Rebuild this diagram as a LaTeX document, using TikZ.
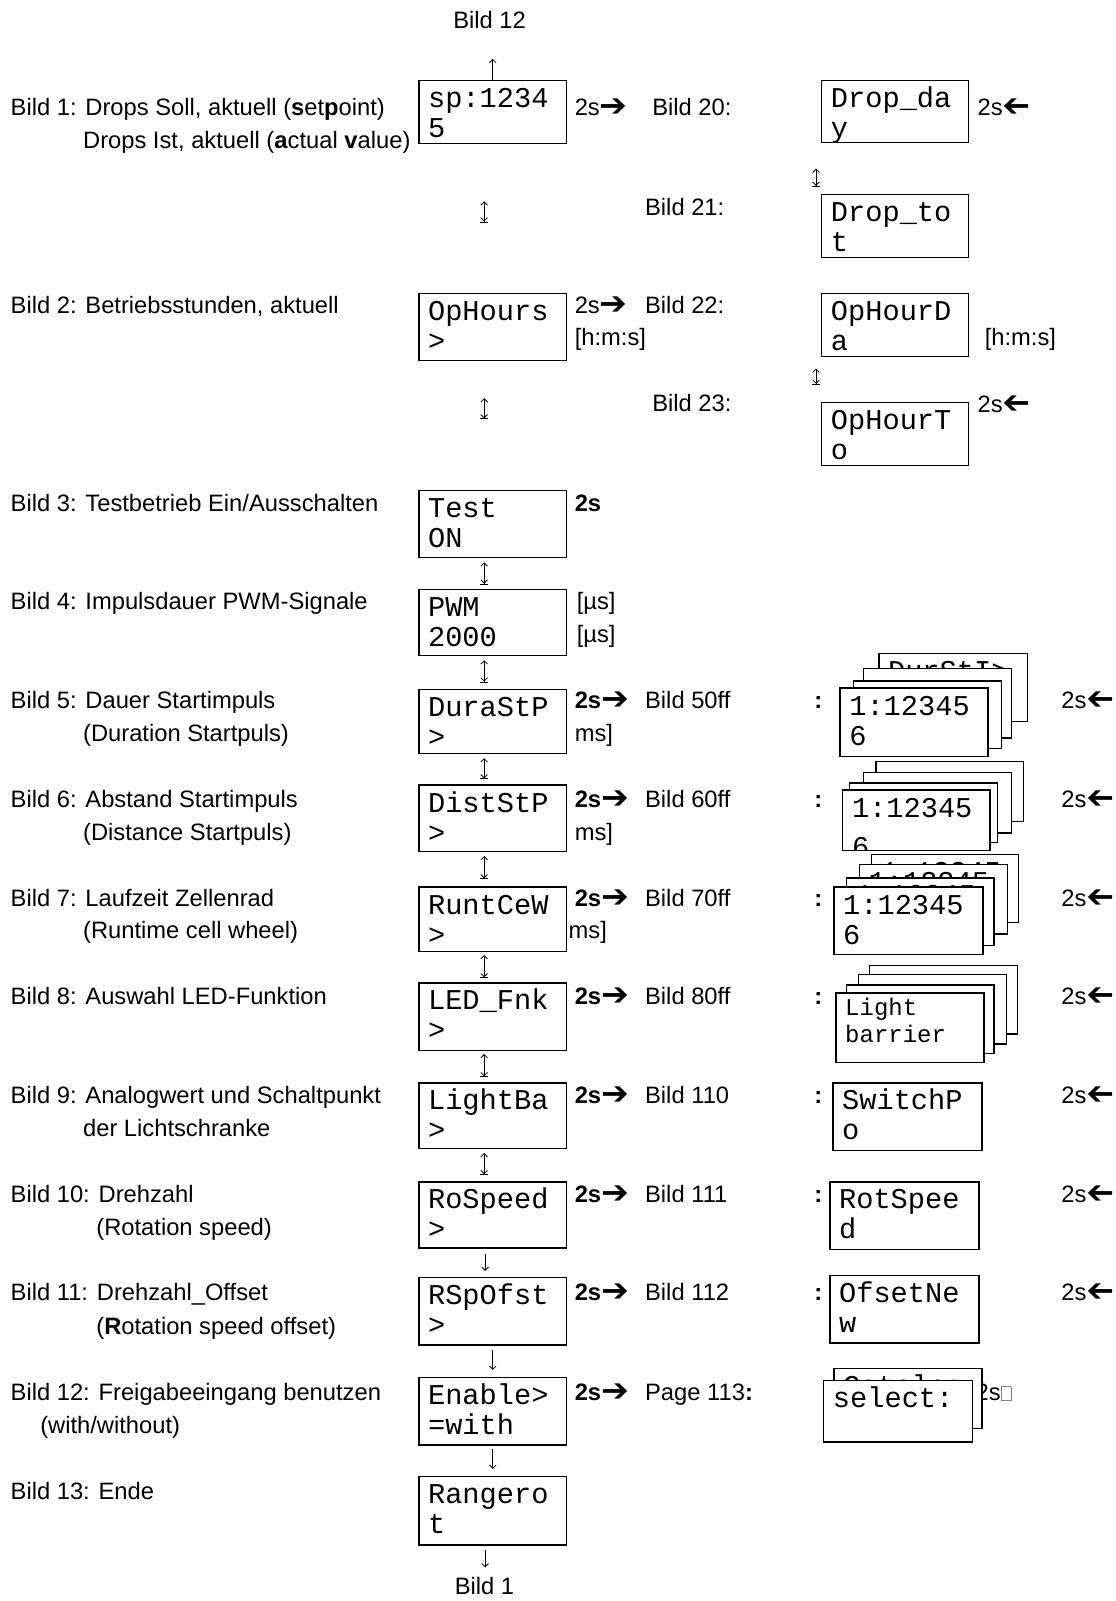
\documentclass[tikz,border=0pt]{standalone}
\usepackage{fontspec}
\usepackage{graphicx}
\setmainfont{Liberation Sans}
\setmonofont{Liberation Mono}
\newfontfamily\arrowfont{DejaVu Sans}[BoldFont=DejaVu Sans Bold]
\usetikzlibrary{arrows.meta}

\newlength{\pxu}\setlength{\pxu}{0.765pt}
\newcommand{\lcdfont}{\ttfamily\fontsize{21.5}{22.5}\selectfont}
\newcommand{\smalllcd}{\ttfamily\fontsize{18}{20.3}\selectfont}
\newcommand{\lblfont}{\fontsize{17.8}{21}\selectfont}
% display text: [strut] width, height, line 1, line 2
\newcommand{\screen}[5][26.5]{\parbox[t][#3\pxu][t]{#2\pxu}{\leftskip=9\pxu\rule{0pt}{#1\pxu}#4\\#5}}
\newcommand{\rarr}{{\arrowfont\bfseries\raisebox{-0.8pt}{\scalebox{1.4}[1.35]{➔}}}}
\newcommand{\larr}{{\arrowfont\bfseries\raisebox{-0.8pt}{\scalebox{-1.4}[1.35]{➔}}}}
\newcommand{\nogl}{\textcolor{gray}{\fboxsep=0pt\fboxrule=0.5pt\fbox{\rule{0pt}{10pt}\hspace{7pt}}}}

\tikzset{every picture/.style={line width=0.75pt}}

\begin{document}
\begin{tikzpicture}[x=0.765pt,y=0.765pt,yscale=-1,xscale=1,
  lcd/.style={draw, line width=1pt, fill=white, inner sep=0pt, anchor=north west, font=\lcdfont},
  lbl/.style={anchor=base west, inner sep=0pt, font=\lblfont},
  updown/.style={{Straight Barb[length=2.5pt,width=5pt]}-{Straight Barb[length=2.5pt,width=5pt] Bar[width=6pt]}, line width=0.6pt},
  down/.style={-{Straight Barb[length=2.5pt,width=5pt]}, line width=0.6pt}]
\useasboundingbox (0,0) rectangle (1093.14,1569.6);

%Text: left column
\node[lbl] (t1a) at (10,113) {Bild 1: Drops Soll, aktuell (\textbf{s}et\textbf{p}oint)};
\node[lbl] (t1b) at (81,146) {Drops Ist, aktuell (\textbf{a}ctual \textbf{v}alue)};
\node[lbl] (t2) at (10,307) {Bild 2: Betriebsstunden, aktuell};
\node[lbl] (t3) at (10,501) {Bild 3: Testbetrieb Ein/Ausschalten};
\node[lbl] (t4) at (10,598) {Bild 4: Impulsdauer PWM-Signale};
\node[lbl] (t5a) at (10,695) {Bild 5: Dauer Startimpuls};
\node[lbl] (t5b) at (81,727) {(Duration Startpuls)};
\node[lbl] (t6a) at (10,792) {Bild 6: Abstand Startimpuls};
\node[lbl] (t6b) at (81,824) {(Distance Startpuls)};
\node[lbl] (t7a) at (10,889) {Bild 7: Laufzeit Zellenrad};
\node[lbl] (t7b) at (81,920) {(Runtime cell wheel)};
\node[lbl] (t8) at (10,985) {Bild 8: Auswahl LED-Funktion};
\node[lbl] (t9a) at (10,1082) {Bild 9: Analogwert und Schaltpunkt};
\node[lbl] (t9b) at (81,1114) {der Lichtschranke};
\node[lbl] (t10a) at (10,1179) {Bild 10: Drehzahl};
\node[lbl] (t10b) at (94,1211) {(Rotation speed)};
\node[lbl] (t11a) at (10,1275) {Bild 11: Drehzahl\_Offset};
\node[lbl] (t11b) at (94,1308) {(\textbf{R}otation speed offset)};
\node[lbl] (t12a) at (10,1373) {Bild 12: Freigabeeingang benutzen};
\node[lbl] (t12b) at (39,1405) {(with/without)};
\node[lbl] (t13) at (10,1470) {Bild 13: Ende};

%Text: top and bottom
\node[lbl, anchor=base] (top12) at (480,28) {Bild 12};
\node[lbl, anchor=base] (bot1) at (475,1563) {Bild 1};

%Text: middle column
\node[lbl] (m1) at (563,113) {2s\rarr};
\node[lbl] (p20) at (639,113) {Bild 20:};
\node[lbl] (p21) at (632,211) {Bild 21:};
\node[lbl] (m2) at (563,307) {2s\rarr};
\node[lbl] (p22) at (632,307) {Bild 22:};
\node[lbl] (u2) at (563,339) {[h:m:s]};
\node[lbl] (p23) at (639,403) {Bild 23:};
\node[lbl] (m3) at (563,501) {\textbf{2s}};
\node[lbl] (u4a) at (565,598) {[µs]};
\node[lbl] (u4b) at (565,630) {[µs]};
\node[lbl] (m5) at (563,695) {\textbf{2s}\rarr};
\node[lbl] (p50) at (632,695) {Bild 50ff};
\node[lbl] (u5) at (563,727) {ms]};
\node[lbl] (m6) at (563,792) {\textbf{2s}\rarr};
\node[lbl] (p60) at (632,792) {Bild 60ff};
\node[lbl] (u6) at (563,824) {ms]};
\node[lbl] (m7) at (563,889) {\textbf{2s}\rarr};
\node[lbl] (p70) at (632,889) {Bild 70ff};
\node[lbl] (u7) at (557,920) {ms]};
\node[lbl] (m8) at (563,985) {\textbf{2s}\rarr};
\node[lbl] (p80) at (632,985) {Bild 80ff};
\node[lbl] (m9) at (563,1082) {\textbf{2s}\rarr};
\node[lbl] (p110) at (632,1082) {Bild 110};
\node[lbl] (m10) at (563,1179) {\textbf{2s}\rarr};
\node[lbl] (p111) at (632,1179) {Bild 111};
\node[lbl] (m11) at (563,1275) {\textbf{2s}\rarr};
\node[lbl] (p112) at (632,1275) {Bild 112};
\node[lbl] (m12) at (563,1373) {\textbf{2s}\rarr};
\node[lbl] (p113) at (632,1373) {Page 113\textbf{:}};

%Text: colons and return times
\node[lbl] (c5) at (798,695) {\textbf{:}};
\node[lbl] (c6) at (798,792) {\textbf{:}};
\node[lbl] (c7) at (798,889) {\textbf{:}};
\node[lbl] (c8) at (798,985) {\textbf{:}};
\node[lbl] (c9) at (798,1082) {\textbf{:}};
\node[lbl] (c10) at (798,1179) {\textbf{:}};
\node[lbl] (c11) at (798,1275) {\textbf{:}};
\node[lbl] (r20) at (958,113) {2s\larr};
\node[lbl] (u22) at (965,339) {[h:m:s]};
\node[lbl] (r23) at (958,404) {2s\larr};
\node[lbl] (r5) at (1040,695) {2s\larr};
\node[lbl] (r6) at (1040,792) {2s\larr};
\node[lbl] (r7) at (1040,889) {2s\larr};
\node[lbl] (r8) at (1040,985) {2s\larr};
\node[lbl] (r9) at (1040,1082) {2s\larr};
\node[lbl] (r10) at (1040,1179) {2s\larr};
\node[lbl] (r11) at (1040,1275) {2s\larr};
\node[lbl] (r12) at (956,1373) {2s\nogl};

%Shape: main displays
\node[lcd] (b1) at (410,78) {\screen{145}{62}{sp:1234}{5}};
\node[lcd] (b2) at (410,287) {\screen{145}{66}{OpHours}{>}};
\node[lcd] (b3) at (410,480) {\screen{145}{66}{Test}{ON}};
\node[lcd] (b4) at (410,577) {\screen{145}{65}{PWM}{2000}};
\node[lcd] (b5) at (410,675) {\screen{145}{63}{DuraStP}{>}};
\node[lcd] (b6) at (410,769) {\screen{145}{65}{DistStP}{>}};
\node[lcd] (b7) at (410,869) {\screen{145}{63}{RuntCeW}{>}};
\node[lcd] (b8) at (410,963) {\screen{145}{66}{LED\_Fnk}{>}};
\node[lcd] (b9) at (410,1061) {\screen{145}{64}{LightBa}{>}};
\node[lcd] (b10) at (410,1158) {\screen{145}{65}{RoSpeed}{>}};
\node[lcd] (b11) at (410,1252) {\screen{145}{66}{RSpOfst}{>}};
\node[lcd] (b12) at (410,1350) {\screen{145}{66}{Enable>}{=with}};
\node[lcd] (b13) at (410,1447) {\screen{145}{67}{Rangero}{t}};

%Shape: right displays
\node[lcd] (b20) at (805,78) {\screen{144}{61}{Drop\_da}{y}};
\node[lcd] (b21) at (805,190) {\screen{144}{62}{Drop\_to}{t}};
\node[lcd] (b22) at (805,287) {\screen{144}{62}{OpHourD}{a}};
\node[lcd] (b23) at (805,394) {\screen{144}{62}{OpHourT}{o}};

%Shape: stack 50ff
\node[lcd] (s5d) at (861,640) {\screen{146}{67}{DurStI>}{}};
\node[lcd] (s5c) at (846,655) {\screen{145}{68}{}{}};
\node[lcd] (s5b) at (836,667) {\screen{145}{66}{}{}};
\node[lcd] (s5a) at (823,674) {\screen{145}{67}{1:12345}{6}};
%Shape: stack 60ff
\node[lcd] (s6d) at (858,746) {\screen{145}{59}{}{}};
\node[lcd] (s6c) at (846,757) {\screen{145}{59}{}{}};
\node[lcd] (s6b) at (832,767) {\screen{145}{58}{}{}};
\node[lcd, minimum width=145\pxu, minimum height=59\pxu,
  path picture={\node[anchor=north west, inner sep=0pt, font=\lcdfont] at (path picture bounding box.north west) {\screen{145}{59}{1:12345}{\raisebox{-8\pxu}{6}}};}] (s6a) at (825,774) {};
%Shape: stack 70ff
\node[lcd] (s7d) at (854,837) {\screen{144}{67}{1:12345}{}};
\node[lcd] (s7c) at (842,847) {\screen{145}{68}{1:12345}{}};
\node[lcd] (s7b) at (829,860) {\screen{145}{66}{1:12345}{}};
\node[lcd] (s7a) at (817,869) {\screen{146}{66}{1:12345}{6}};
%Shape: stack 80ff
\node[lcd] (s8d) at (852,946) {\screen{145}{67}{}{}};
\node[lcd] (s8c) at (841,955) {\screen{145}{68}{}{}};
\node[lcd] (s8b) at (829,965) {\screen{145}{67}{}{}};
\node[lcd, font=\smalllcd] (s8a) at (819,973) {\screen[22]{145}{68}{Light}{barrier}};

%Shape: displays 110 to 113
\node[lcd] (b110) at (816,1061) {\screen{146}{66}{SwitchP}{o}};
\node[lcd] (b111) at (813,1158) {\screen{146}{66}{RotSpee}{d}};
\node[lcd] (b112) at (813,1250) {\screen{146}{66}{OfsetNe}{w}};
\node[lcd] (s113b) at (817,1341) {\screen{145}{59}{Catalog}{}};
\node[lcd] (s113a) at (807,1353) {\screen{146}{60}{select:}{}};

%Straight Lines: main column
\draw[down, shorten >=29\pxu] (b1.north) -- (b1.north |- top12.south);
\draw[updown, shorten <=56\pxu, shorten >=69\pxu] ([xshift=-8.5\pxu]b1.south) -- ([xshift=-8.5\pxu]b2.north);
\draw[updown, shorten <=36\pxu, shorten >=69\pxu] ([xshift=-8.5\pxu]b2.south) -- ([xshift=-8.5\pxu]b3.north);
\draw[updown, shorten <=4\pxu, shorten >=4\pxu] ([xshift=-8.5\pxu]b3.south) -- ([xshift=-8.5\pxu]b4.north);
\draw[updown, shorten <=4\pxu, shorten >=6\pxu] ([xshift=-8.5\pxu]b4.south) -- ([xshift=-8.5\pxu]b5.north);
\draw[updown, shorten <=4\pxu, shorten >=5\pxu] ([xshift=-8.5\pxu]b5.south) -- ([xshift=-8.5\pxu]b6.north);
\draw[updown, shorten <=4\pxu, shorten >=7\pxu] ([xshift=-8.5\pxu]b6.south) -- ([xshift=-8.5\pxu]b7.north);
\draw[updown, shorten <=3\pxu, shorten >=4\pxu] ([xshift=-8.5\pxu]b7.south) -- ([xshift=-8.5\pxu]b8.north);
\draw[updown, shorten <=3\pxu, shorten >=5\pxu] ([xshift=-8.5\pxu]b8.south) -- ([xshift=-8.5\pxu]b9.north);
\draw[updown, shorten <=4\pxu, shorten >=6\pxu] ([xshift=-8.5\pxu]b9.south) -- ([xshift=-8.5\pxu]b10.north);
\draw[down, shorten <=5\pxu, shorten >=6\pxu] ([xshift=-7.5\pxu]b10.south) -- ([xshift=-7.5\pxu]b11.north);
\draw[down, shorten <=4\pxu, shorten >=7\pxu] (b11.south) -- (b12.north);
\draw[down, shorten <=3\pxu, shorten >=7\pxu] (b12.south) -- (b13.north);
\draw[down, shorten <=4\pxu, shorten >=9\pxu] ([xshift=-7.5\pxu]b13.south) -- ([xshift=-7.5\pxu]b13.south |- bot1.north);

%Straight Lines: right column
\draw[updown, shorten <=25\pxu, shorten >=7\pxu] ([xshift=-5\pxu]b20.south west) -- ([xshift=-5\pxu]b21.north west);
\draw[updown, shorten <=11\pxu, shorten >=17\pxu] ([xshift=-5\pxu]b22.south west) -- ([xshift=-5\pxu]b23.north west);

\end{tikzpicture}
\end{document}
